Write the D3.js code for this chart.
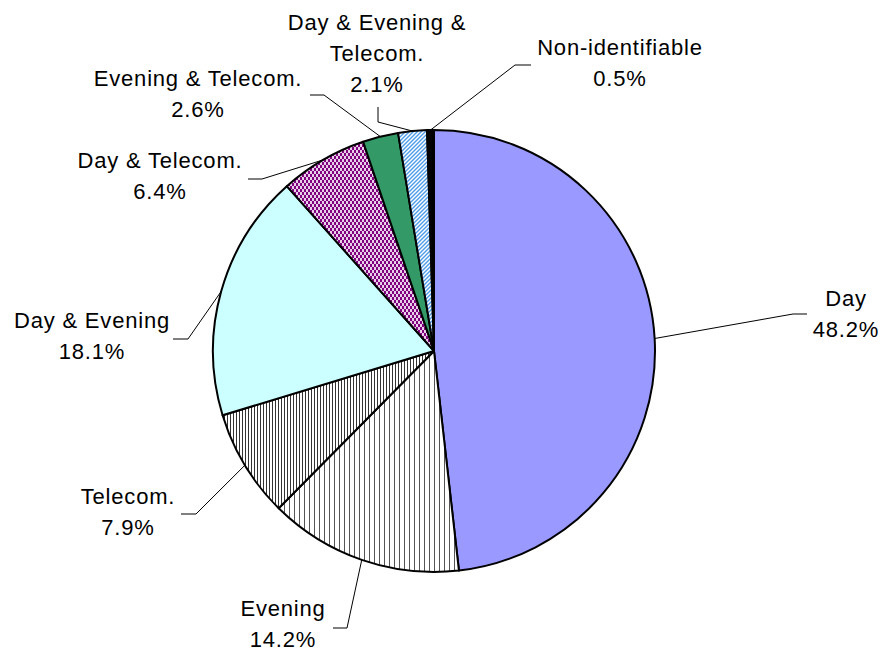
<!DOCTYPE html>
<html>
<head>
<meta charset="utf-8">
<script src="https://cdn.jsdelivr.net/npm/d3@7"></script>
<style>
  body { margin: 0; background: #fff; }
  svg { display: block; }
  .label { font-family: "Liberation Sans", Arial, sans-serif; font-size: 22px; letter-spacing: 0.8px; fill: #000; }
</style>
</head>
<body>
<svg width="882" height="653"></svg>
<script>
const categories = [
  "Day", "Evening", "Telecom.", "Day & Evening", "Day & Telecom.",
  "Evening & Telecom.", "Day & Evening & Telecom.", "Non-identifiable"
];
const shares = [48.2, 14.2, 7.9, 18.1, 6.4, 2.6, 2.1, 0.5];
// how each label is broken into lines
const labelLines = [
  ["Day"], ["Evening"], ["Telecom."], ["Day & Evening"], ["Day & Telecom."],
  ["Evening & Telecom."], ["Day & Evening &", "Telecom."], ["Non-identifiable"]
];

const fills = [
  "#9999ff", "url(#vlines)", "url(#vlinesDense)", "#ccffff",
  "url(#weave)", "#339966", "url(#diag)", "#000000"
];

// label placement: text centre, first line centre y, elbow and end of leader
const labelPos = [
  {x: 846, y: 298, elbow: [793, 314], end: [807, 314]},
  {x: 283, y: 608, elbow: [347, 628], end: [333, 628]},
  {x: 128, y: 496, elbow: [196, 514], end: [181, 514]},
  {x: 92,  y: 320, elbow: [188, 339], end: [173, 339]},
  {x: 160, y: 160, elbow: [262, 179], end: [248, 179]},
  {x: 198, y: 78,  elbow: [324, 95],  end: [310, 95]},
  {x: 377, y: 22,  elbow: [378, 122], end: [378, 107]},
  {x: 620, y: 47,  elbow: [515, 65],  end: [531, 65]}
];

const cx = 434, cy = 351, radius = 221;
const lineHeight = 31;

const svg = d3.select("svg");
const defs = svg.append("defs");

// patterns
const vl = defs.append("pattern").attr("id", "vlines")
  .attr("patternUnits", "userSpaceOnUse").attr("width", 5).attr("height", 5);
vl.append("rect").attr("width", 5).attr("height", 5).attr("fill", "#fff");
vl.append("rect").attr("x", 0).attr("width", 1).attr("height", 5).attr("fill", "#555");

const vld = defs.append("pattern").attr("id", "vlinesDense")
  .attr("patternUnits", "userSpaceOnUse").attr("width", 3).attr("height", 3);
vld.append("rect").attr("width", 3).attr("height", 3).attr("fill", "#fff");
vld.append("rect").attr("x", 0).attr("width", 1).attr("height", 3).attr("fill", "#333");

const wv = defs.append("pattern").attr("id", "weave")
  .attr("patternUnits", "userSpaceOnUse").attr("width", 4).attr("height", 6);
wv.append("rect").attr("width", 4).attr("height", 6).attr("fill", "#800080");
wv.append("rect").attr("x", 0).attr("y", 0).attr("width", 2).attr("height", 3).attr("fill", "#e8d0e8");
wv.append("rect").attr("x", 2).attr("y", 3).attr("width", 2).attr("height", 3).attr("fill", "#e8d0e8");

const dg = defs.append("pattern").attr("id", "diag")
  .attr("patternUnits", "userSpaceOnUse").attr("width", 4).attr("height", 4);
dg.append("rect").attr("width", 4).attr("height", 4).attr("fill", "#fff");
dg.append("path").attr("d", "M-1,5 L5,-1 M-1,1 L1,-1 M3,5 L5,3")
  .attr("stroke", "#4d9be8").attr("stroke-width", 1.4);

const pie = d3.pie().sort(null).value(d => d);
const arcs = pie(shares);

const arc = d3.arc().innerRadius(0).outerRadius(radius);
const edgeArc = d3.arc().innerRadius(radius).outerRadius(radius);

const g = svg.append("g").attr("transform", `translate(${cx},${cy})`);

g.selectAll("path.slice")
  .data(arcs)
  .enter()
  .append("path")
  .attr("class", "slice")
  .attr("d", arc)
  .attr("fill", (d, i) => fills[i])
  .attr("stroke", "#000")
  .attr("stroke-width", 2)
  .attr("stroke-linejoin", "round");

// leader lines
svg.append("g")
  .selectAll("polyline")
  .data(arcs)
  .enter()
  .append("polyline")
  .attr("points", (d, i) => {
    const c = edgeArc.centroid(d);
    const p = labelPos[i];
    return [[c[0] + cx, c[1] + cy], p.elbow, p.end].map(q => q.join(",")).join(" ");
  })
  .attr("fill", "none")
  .attr("stroke", "#000")
  .attr("stroke-width", 1);

// labels
const labels = svg.append("g")
  .selectAll("text")
  .data(arcs)
  .enter()
  .append("text")
  .attr("class", "label")
  .attr("text-anchor", "middle")
  .attr("dominant-baseline", "central");

labels.each(function(d, i) {
  const t = d3.select(this);
  const p = labelPos[i];
  const lines = labelLines[i].concat([shares[i].toFixed(1) + "%"]);
  lines.forEach((line, k) => {
    t.append("tspan")
      .attr("x", p.x)
      .attr("y", p.y + k * lineHeight)
      .text(line);
  });
});
</script>
</body>
</html>
